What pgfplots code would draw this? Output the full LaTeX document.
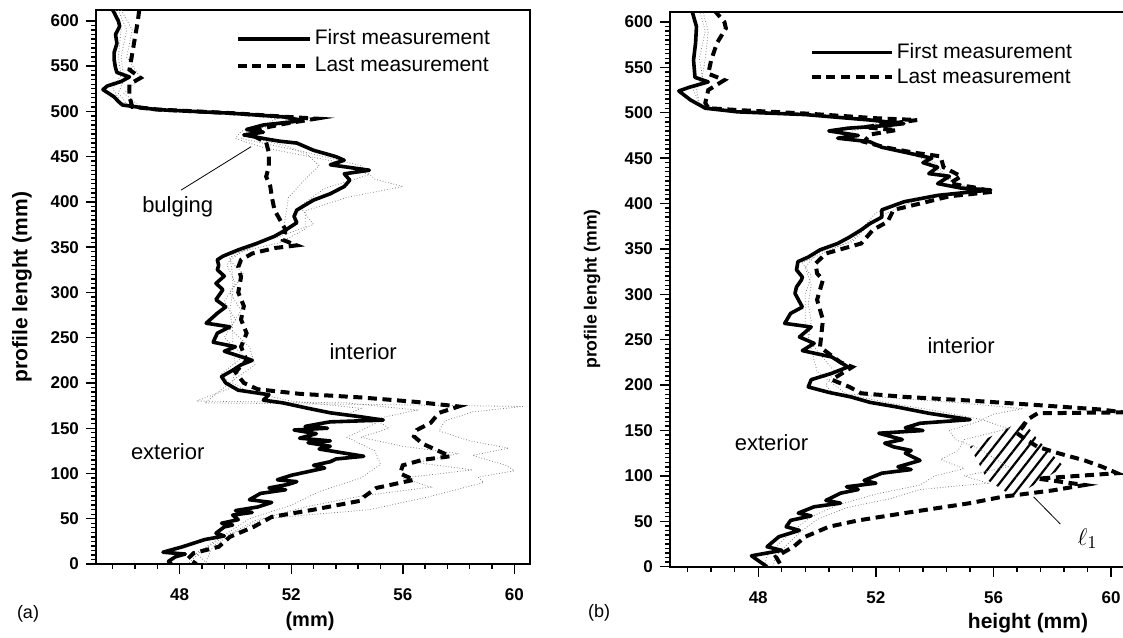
\documentclass[border=0pt]{standalone}
\usepackage{pgfplots}
\pgfplotsset{compat=1.18}
\usepackage{fontspec}
\setmainfont{Liberation Sans}
\usetikzlibrary{patterns.meta}

\pgfplotsset{
  panel/.style={
    scale only axis, anchor=south west,
    ymin=0, xmin=45,
    xtick={48,52,56,60},
    minor xtick={45.6,46.4,47.2,48.8,49.6,50.4,51.2,52.8,53.6,54.4,55.2,56.8,57.6,58.4,59.2},
    ytick={0,50,...,600},
    minor y tick num=9,
    tick align=outside, tick pos=left,
    major tick length=5pt, minor tick length=2.5pt,
    every tick/.style={black, line width=0.7pt},
    axis line style={line width=1pt},
    ticklabel style={font=\fontsize{8.5}{10}\selectfont\bfseries},
    /pgf/number format/assume math mode=true,
    xticklabel style={yshift=-4pt},
    clip=true,
    legend cell align=left,
    legend style={draw=none, fill=none, inner sep=0pt, anchor=north west,
      font=\fontsize{10.5}{12}\selectfont, nodes={inner sep=1.5pt}},
  },
  first/.style={black, line width=1.8pt, line join=round},
  last/.style={black, line width=2pt, dash pattern=on 4.5pt off 2.8pt},
  mid/.style={gray, line width=0.4pt, densely dotted},
}

\begin{document}
\begin{tikzpicture}
% ---------------- panel (a) ----------------
\begin{axis}[panel, at={(48pt,36.5pt)}, width=217pt, height=277pt, xmax=60.56, ymax=612,
  legend style={at={(axis cs:50.0,594)}, row sep=1.5pt},
  legend image code/.code={\draw[#1] (0pt,0pt) -- (36pt,0pt);}]
\addplot[mid, forget plot] coordinates {
(45.9,612) (46.3,590) (46.1,560) (46.6,537) (46.0,520) (46.6,505) (47.5,502) (50.0,498) (53.1,492) (50.5,480) (50.2,470) (52.5,455) (54.5,440) (55.0,425) (56.0,417) (54.0,405) (52.5,390) (52.5,370) (51.6,355) (50.2,345) (49.8,335) (50.3,320) (49.8,300) (50.2,280) (49.8,260) (50.5,240) (50.7,220) (50.0,205) (48.9,178) (55.5,176) (60.3,174) (58.5,168) (57.5,158) (57.3,147) (58.4,136) (59.8,128) (58.5,120) (59.7,109) (60.0,103) (58.7,96) (58.9,90) (56.9,74) (54.8,60) (51.0,50) (50.0,35) (49.2,20) (48.9,0)};
\addplot[mid, forget plot] coordinates {
(45.8,612) (46.1,590) (45.9,560) (46.0,535) (45.8,520) (46.2,505) (47.4,502) (49.9,498) (52.0,491) (50.2,478) (50.0,470) (51.0,460) (53.5,445) (54.8,430) (53.2,415) (52.3,395) (52.8,375) (51.2,358) (49.9,342) (49.7,330) (50.0,310) (49.6,290) (50.0,270) (49.6,250) (50.3,230) (49.5,210) (49.9,195) (48.6,180) (54.0,178) (56.5,170) (55.0,160) (55.5,150) (54.5,140) (56.0,130) (58.0,122) (56.5,112) (58.5,104) (56.0,95) (57.0,85) (54.5,75) (52.5,63) (50.7,48) (49.6,30) (48.8,15) (48.3,0)};
\addplot[mid, forget plot] coordinates {
(45.7,612) (45.9,590) (45.8,560) (45.9,540) (45.6,525) (45.9,510) (47.2,502) (49.8,498) (51.5,492) (50.8,482) (50.7,470) (51.8,462) (52.6,452) (53.0,440) (52.5,425) (51.9,405) (51.8,385) (51.7,365) (50.6,350) (49.8,338) (49.9,320) (49.9,300) (49.8,280) (49.9,260) (49.9,240) (50.0,220) (49.9,200) (50.5,190) (52.0,180) (54.5,172) (54.0,165) (55.0,155) (54.0,140) (55.0,125) (55.2,110) (54.5,95) (53.0,80) (52.0,65) (50.5,50) (49.5,30) (48.6,12) (49.0,0)};
\addplot[first] coordinates {
(45.6,612) (45.8,600) (45.85,594) (45.7,585) (45.75,575) (45.65,565) (45.65,557) (45.7,548) (45.75,543) (46.2,538) (45.9,533) (45.4,528) (45.25,524) (45.4,521) (45.65,516) (45.8,511) (45.95,507) (47.15,502) (49.8,498) (51.7,494) (52.4,490) (51.9,488) (51.0,485) (50.4,480) (51.0,477) (50.3,474) (51.2,469) (51.6,467) (52.2,465) (52.8,457) (53.6,450) (53.9,446) (53.4,441) (54.8,435) (53.9,431) (54.1,424) (53.9,417) (53.4,409) (52.8,402) (52.2,391) (52.1,384) (52.2,377) (51.8,369) (51.4,362) (50.75,354) (50.1,347) (49.55,340) (49.35,336) (49.4,330) (49.35,325) (49.6,318) (49.3,310) (49.55,303) (49.3,292) (49.65,284) (49.35,277) (48.95,266) (49.8,262) (49.35,255) (49.2,245) (50.0,240) (49.6,235) (50.6,225) (50.2,220) (49.9,214) (49.5,207) (49.65,200) (50.1,192) (51.2,187) (51.0,181) (51.7,178) (52.6,172) (53.4,167) (54.4,163) (55.3,159) (53.4,157) (53.2,156) (52.5,152) (53.3,150) (52.1,148) (52.9,144) (52.3,139) (53.4,136) (52.6,134) (53.4,130) (53.0,127) (54.0,122) (54.6,119) (53.6,116) (53.4,113) (52.8,109) (53.2,106) (52.6,102) (52.0,98) (51.5,93) (52.2,91) (51.9,88) (51.2,84) (51.8,82) (50.9,78) (50.5,71) (51.3,68) (50.8,63) (50.0,59) (50.6,57) (49.9,54) (50.1,49) (49.5,45) (49.9,43) (49.6,41) (49.3,34) (49.6,31) (48.9,27) (48.1,19) (47.4,13) (48.2,11) (47.85,8) (47.6,3) (47.7,0)};
\addlegendentry{First measurement}
\addplot[last] coordinates {
(46.55,612) (46.5,600) (46.4,582) (46.3,564) (46.2,546) (46.6,537) (46.2,530) (46.2,516) (46.3,505) (47.25,502) (49.9,498) (51.8,494) (52.9,492) (51.7,486) (50.6,479) (50.7,472) (51.1,466) (51.2,454) (51.2,439) (51.1,428) (51.25,417) (51.3,406) (51.4,391) (51.6,380) (51.8,369) (51.7,358) (52.2,352) (51.4,349) (50.6,343) (50.2,336) (50.1,328) (50.2,317) (50.1,300) (50.3,285) (50.2,270) (50.4,255) (50.2,240) (50.4,225) (50.0,212) (50.3,200) (50.8,193) (52.3,188) (54.5,184) (56.5,179) (58.0,174) (57.3,167) (57.0,156) (56.5,148) (56.4,141) (56.7,133) (57.2,126) (57.7,119) (56.7,115) (56.0,109) (55.9,100) (56.4,93) (55.8,89) (55.05,84) (54.6,74) (54.5,70) (52.8,60) (51.3,52) (50.65,41) (49.8,30) (49.4,19) (48.5,12) (48.3,6) (48.6,0)};
\addlegendentry{Last measurement}
\draw[line width=0.4pt] (axis cs:48.05,413) -- (axis cs:50.56,461);
\node[font=\fontsize{11}{13}\selectfont] at (axis cs:47.93,395) {bulging};
\node[font=\fontsize{11}{13}\selectfont] at (axis cs:54.58,235) {interior};
\node[font=\fontsize{11}{13}\selectfont] at (axis cs:47.57,124) {exterior};
\end{axis}

% ---------------- panel (b) ----------------
\begin{axis}[panel, at={(335pt,35.15pt)}, width=227.5pt, height=277.35pt, xmax=60.47, ymax=611,
  legend style={at={(axis cs:49.74,580)}, row sep=0.5pt},
  legend image code/.code={\draw[#1] (0pt,0pt) -- (40pt,0pt);}]
\addplot[pattern={Lines[angle=52, distance=4.5pt, line width=1.1pt]}, draw=none, forget plot] coordinates {
(57.0,161) (57.5,140) (58.4,110) (56.7,77) (55.8,95) (55.2,132)} -- cycle;
\addplot[mid, forget plot] coordinates {
(46.1,613) (46.3,590) (46.2,560) (46.1,540) (45.9,525) (46.0,510) (47.0,502) (49.6,498) (52.5,490) (51.2,480) (51.3,470) (52.8,458) (54.0,445) (54.4,430) (55.0,418) (55.9,414) (53.5,405) (52.4,390) (51.7,375) (51.2,358) (50.0,345) (49.6,330) (49.8,310) (49.7,290) (49.8,270) (49.7,250) (50.2,230) (50.6,215) (50.3,200) (50.5,192) (52.5,186) (55.0,180) (57.0,174) (56.0,168) (55.5,160) (54.5,150) (54.7,140) (55.5,130) (56.0,120) (56.5,110) (55.0,100) (55.8,92) (53.5,85) (52.5,75) (51.0,65) (50.0,52) (49.5,40) (49.0,25) (48.6,12) (48.5,0)};
\addplot[mid, forget plot] coordinates {
(46.0,613) (46.2,590) (46.0,560) (46.1,540) (45.8,525) (46.0,510) (47.2,502) (49.7,498) (52.2,490) (50.8,480) (51.5,470) (52.5,460) (53.7,450) (54.0,440) (54.5,425) (55.5,415) (53.0,402) (52.0,390) (51.6,375) (51.2,360) (50.4,348) (49.5,335) (49.8,320) (49.6,300) (49.6,270) (49.8,240) (50.0,215) (50.6,200) (51.0,190) (52.5,180) (54.0,172) (55.6,162) (56.5,152) (55.0,140) (54.8,128) (54.2,118) (55.0,108) (54.0,100) (53.5,90) (52.0,80) (50.7,68) (49.8,55) (49.2,40) (48.7,25) (48.3,12) (48.2,0)};
\addplot[first] coordinates {
(45.74,613) (45.9,595) (45.87,577) (45.8,558) (45.85,539) (46.3,534) (45.65,528) (45.3,524) (45.7,514) (46.2,505) (47.3,501) (49.6,498) (51.8,492) (52.95,488) (52.4,486) (51.05,483) (50.4,480) (51.4,475) (50.7,472) (51.8,468) (52.2,462) (53.2,455) (53.9,450) (53.6,445) (54.1,440) (53.8,433) (54.5,430) (54.1,422) (54.9,417) (55.9,415) (54.1,409) (52.96,402) (52.2,393) (52.2,385) (51.8,378) (51.5,371) (51.1,363) (50.7,356) (50.1,349) (49.7,341) (49.35,336) (49.3,327) (49.5,319) (49.47,316) (49.3,308) (49.25,301) (49.5,286) (49.1,279) (48.9,268) (49.8,264) (49.4,253) (49.9,246) (49.5,238) (50.5,231) (51.05,220) (50.5,213) (49.8,206) (49.7,198) (50.4,192) (51.15,187) (51.8,181) (52.7,176) (53.8,169) (55.2,162) (53.5,158) (53.0,153) (53.6,150) (52.1,147) (52.9,140) (52.3,136) (52.6,132) (53.2,128) (53.0,125) (53.5,117) (52.75,110) (53.2,107) (52.2,103) (51.6,95) (52.0,92) (51.0,88) (51.4,85) (50.8,81) (50.3,73) (50.8,70) (49.9,66) (49.36,59) (49.8,56) (49.1,51) (48.95,44) (49.4,40) (48.7,33) (48.3,22) (48.8,18) (47.77,12) (47.9,9) (48.3,0)};
\addlegendentry{First measurement}
\addplot[last] coordinates {
(46.5,613) (46.85,600) (46.9,593) (46.6,577) (46.4,558) (46.3,543) (46.85,536) (46.3,525) (46.2,511) (46.3,505) (47.3,503) (49.7,499) (52.0,494) (53.4,492) (52.5,488) (51.6,484) (52.7,481) (51.8,476) (51.6,468) (52.3,462) (53.3,456) (54.2,452) (54.3,440) (54.9,430) (54.5,422) (55.3,418) (56.0,413) (54.5,408) (53.5,400) (52.6,393) (52.4,380) (51.9,371) (51.5,356) (50.3,345) (49.95,334) (50.0,323) (50.2,316) (50.0,294) (50.2,272) (50.1,242) (50.8,225) (51.2,220) (50.5,206) (51.1,198) (51.5,191) (53.0,187) (55.2,183) (57.5,178) (59.7,173) (60.4,170) (57.5,169) (57.15,162) (57.0,154) (56.8,147) (57.1,140) (57.5,132) (58.2,125) (59.1,117) (59.7,110) (60.2,103) (57.5,97) (59.1,90) (58.0,84) (56.3,77) (55.2,70) (52.96,59) (51.4,51) (50.4,44) (49.6,33) (49.2,22) (48.6,11) (48.8,0)};
\addlegendentry{Last measurement}
\draw[line width=0.4pt] (axis cs:58.27,47) -- (axis cs:57.36,77);
\node[font=\fontsize{13}{15}\selectfont] at (axis cs:59.2,31) {$\ell_1$};
\node[font=\fontsize{11}{13}\selectfont] at (axis cs:54.9,244) {interior};
\node[font=\fontsize{11}{13}\selectfont] at (axis cs:48.45,137) {exterior};
\end{axis}

% labels
\node[rotate=90, font=\fontsize{10.5}{12}\selectfont\bfseries] at (11pt,175pt) {profile lenght (mm)};
\node[rotate=90, font=\fontsize{8.8}{10}\selectfont\bfseries] at (296pt,174pt) {profile lenght (mm)};
\node[font=\fontsize{10}{12}\selectfont\bfseries] at (155pt,8pt) {(mm)};
\node[font=\fontsize{10.5}{12}\selectfont\bfseries] at (514pt,7pt) {height (mm)};
\node[font=\fontsize{9}{11}\selectfont] at (14pt,11.5pt) {(a)};
\node[font=\fontsize{9}{11}\selectfont] at (299.5pt,12pt) {(b)};
\pgfresetboundingbox
\path (0pt,0pt) rectangle (561.5pt,318.5pt);
\end{tikzpicture}
\end{document}
